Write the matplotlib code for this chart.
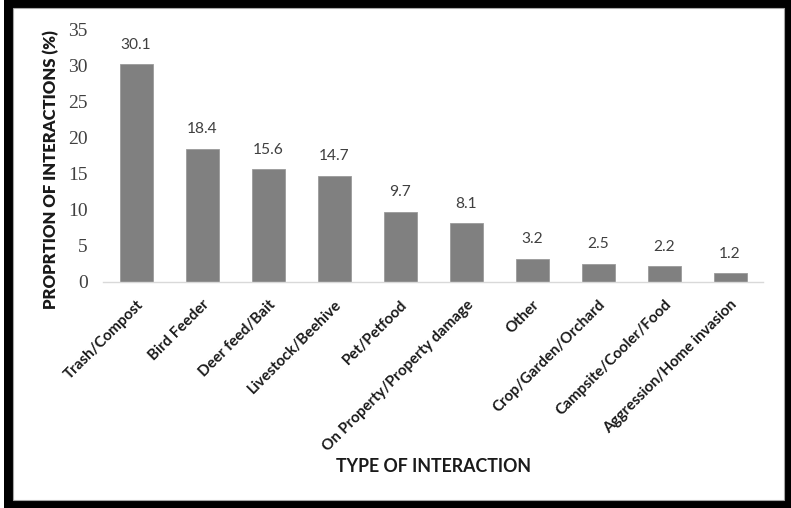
import matplotlib
matplotlib.use("Agg")
import matplotlib.pyplot as plt
from matplotlib.patches import Rectangle

categories = [
    "Trash/Compost", "Bird Feeder", "Deer feed/Bait", "Livestock/Beehive",
    "Pet/Petfood", "On Property/Property damage", "Other",
    "Crop/Garden/Orchard", "Campsite/Cooler/Food", "Aggression/Home invasion",
]
values = [30.1, 18.4, 15.6, 14.7, 9.7, 8.1, 3.2, 2.5, 2.2, 1.2]
yticks = [0, 5, 10, 15, 20, 25, 30, 35]

W, H = 791, 508
fig = plt.figure(figsize=(W / 100, H / 100), dpi=100)
fig.patch.set_facecolor("white")


def px_rect(x0, y0, x1, y1, **kw):
    # rectangle given in pixel coordinates measured from the top-left corner
    return Rectangle((x0 / W, 1 - y1 / H), (x1 - x0) / W, (y1 - y0) / H,
                     transform=fig.transFigure, **kw)


# black picture frame with white inner panel
fig.add_artist(px_rect(4, 0, 791, 508, facecolor="black", edgecolor="none", zorder=0))
fig.add_artist(px_rect(13, 8, 784, 500, facecolor="white", edgecolor="#a6a6a6",
                       linewidth=0.8, zorder=0))

ax = fig.add_axes([103 / W, 1 - 282 / H, 660 / W, 253 / H])
ax.set_facecolor("none")

x = list(range(len(categories)))
ax.bar(x, values, width=0.5, color="#808080", edgecolor="#9a9a9a",
       linewidth=0.6, zorder=2)

for xi, v in zip(x, values):
    ax.annotate(f"{v:.1f}", xy=(xi, v), xytext=(0, 9), textcoords="offset points",
                ha="center", va="bottom", fontsize=11.2, family="Lato",
                color="#404040")

ax.set_xlim(-0.5, len(categories) - 0.5)
ax.set_ylim(0, 35)
ax.set_yticks(yticks)
ax.set_yticklabels([str(t) for t in yticks])
for lab in ax.get_yticklabels():
    lab.set_fontfamily("Liberation Serif")
    lab.set_fontsize(14)
    lab.set_color("#404040")
ax.tick_params(axis="y", length=0, pad=11)
ax.set_xticks(x)
ax.set_xticklabels(categories, rotation=45, ha="right", va="top",
                   rotation_mode="anchor")
for lab in ax.get_xticklabels():
    lab.set_fontfamily("Lato")
    lab.set_fontweight("bold")
    lab.set_fontsize(10.9)
    lab.set_color("#1a1a1a")
ax.tick_params(axis="x", length=0, pad=11)

for s in ["top", "right", "left"]:
    ax.spines[s].set_visible(False)
ax.spines["bottom"].set_color("#d9d9d9")
ax.spines["bottom"].set_linewidth(1.0)

fig.text(51 / W, 1 - 170 / H, "PROPRTION OF INTERACTIONS (%)", rotation=90,
         ha="center", va="center", family="Lato", fontweight="heavy",
         fontsize=12, color="#1a1a1a")
fig.text(433 / W, 1 - 466 / H, "TYPE OF INTERACTION", ha="center", va="center",
         family="Lato", fontweight="bold", fontsize=12.8, color="#1a1a1a")

fig.savefig("out.png", dpi=100, facecolor="white")
